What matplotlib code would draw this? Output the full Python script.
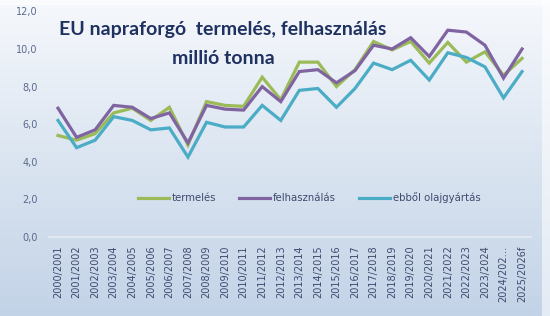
import numpy as np
import matplotlib
matplotlib.use("Agg")
import matplotlib.pyplot as plt
from matplotlib.colors import LinearSegmentedColormap
from matplotlib.patches import Rectangle

# marketing years on the x axis
years = ["2000/2001", "2001/2002", "2002/2003", "2003/2004", "2004/2005", "2005/2006",
         "2006/2007", "2007/2008", "2008/2009", "2009/2010", "2010/2011", "2011/2012",
         "2012/2013", "2013/2014", "2014/2015", "2015/2016", "2016/2017", "2017/2018",
         "2018/2019", "2019/2020", "2020/2021", "2021/2022", "2022/2023", "2023/2024",
         "2024/202\u2026", "2025/2026f"]

# million tonnes
termeles = [5.4, 5.15, 5.5, 6.6, 6.85, 6.2, 6.9, 4.9, 7.2, 7.0, 6.95, 8.5, 7.3, 9.3,
            9.3, 8.0, 8.9, 10.4, 9.95, 10.4, 9.25, 10.35, 9.3, 9.85, 8.6, 9.5]
felhasznalas = [6.85, 5.3, 5.7, 7.0, 6.9, 6.3, 6.6, 5.0, 7.0, 6.8, 6.75, 8.0, 7.2, 8.8,
                8.9, 8.2, 8.85, 10.2, 10.0, 10.6, 9.6, 11.0, 10.9, 10.2, 8.45, 10.0]
olajgyartas = [6.2, 4.75, 5.15, 6.4, 6.2, 5.7, 5.8, 4.25, 6.1, 5.85, 5.85, 7.0, 6.2, 7.8,
               7.9, 6.9, 7.9, 9.25, 8.9, 9.4, 8.35, 9.8, 9.55, 9.05, 7.4, 8.8]

series = [("termelés", termeles, "#9bbb59"),
          ("felhasználás", felhasznalas, "#8064a2"),
          ("ebből olajgyártás", olajgyartas, "#4bacc6")]

fig = plt.figure(figsize=(5.5, 3.16), dpi=100)

# soft blue vertical gradient behind everything
bg = fig.add_axes([0, 0, 1, 1], zorder=-1)
cmap = LinearSegmentedColormap.from_list("bg", ["#c3d3e7", "#dbe5f1", "#f6f8fc"])
bg.imshow(np.linspace(0, 1, 256).reshape(-1, 1), aspect="auto", cmap=cmap,
          origin="lower", extent=(0, 1, 0, 1))
# lighter frame strips (right edge, top edge) of the chart area
bg.add_patch(Rectangle((0.986, 0), 0.014, 1, color="white", alpha=0.55, lw=0))
bg.add_patch(Rectangle((0, 0.985), 1, 0.015, color="white", alpha=0.55, lw=0))
bg.set_xlim(0, 1); bg.set_ylim(0, 1)
bg.axis("off")

ax = fig.add_axes([0.0886, 0.25, 0.8775, 0.714])
ax.patch.set_alpha(0)
x = np.arange(len(years))
for lab, vals, col in series:
    ax.plot(x, vals, color=col, lw=2.3, label=lab, solid_joinstyle="miter")

ax.set_xlim(-0.5, len(years) - 0.5)
ax.set_ylim(0, 12)
ax.set_yticks(np.arange(0, 12.1, 2))
ax.set_yticklabels([f"{v:.1f}".replace(".", ",") for v in np.arange(0, 12.1, 2)])
ax.set_xticks(x)
ax.set_xticklabels(years, rotation=90)
ax.tick_params(axis="y", length=0, pad=8, labelsize=7, labelcolor="#5a6a8c")
ax.tick_params(axis="x", length=0, pad=6, labelsize=7, labelcolor="#3e4a6e")
for s in ["top", "right", "left"]:
    ax.spines[s].set_visible(False)
ax.spines["bottom"].set_color("#e4ebf4")
ax.spines["bottom"].set_linewidth(1.2)

ax.legend(loc="center", bbox_to_anchor=(0.54, 0.173), ncol=3, frameon=False,
          fontsize=7.3, handlelength=3.0, columnspacing=2.3, handletextpad=0.3,
          labelcolor="#3e4a6e")

fig.text(0.405, 0.908, "EU napraforgó  termelés, felhasználás", family="Lato",
         fontweight="bold", fontsize=14, color="#1f3160", ha="center", va="center")
fig.text(0.407, 0.815, "millió tonna", family="Lato",
         fontweight="bold", fontsize=14, color="#1f3160", ha="center", va="center")

fig.savefig("out.png", dpi=100)
